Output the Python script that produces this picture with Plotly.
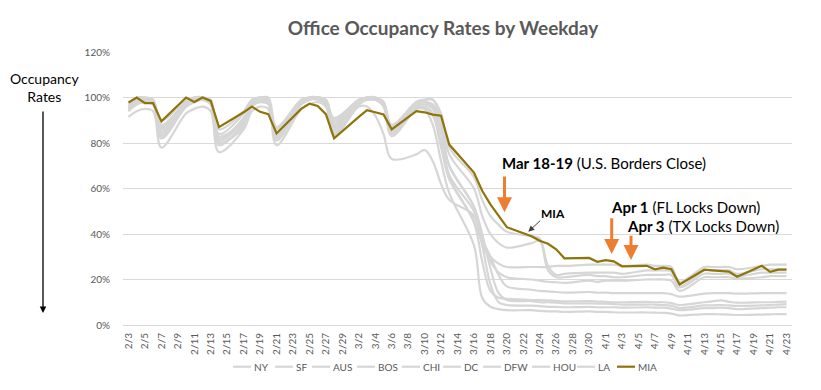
import plotly.graph_objects as go

dates = [
    "2020-02-03", "2020-02-04", "2020-02-05", "2020-02-06", "2020-02-07",
    "2020-02-10", "2020-02-11", "2020-02-12", "2020-02-13", "2020-02-14",
    "2020-02-17", "2020-02-18", "2020-02-19", "2020-02-20", "2020-02-21",
    "2020-02-24", "2020-02-25", "2020-02-26", "2020-02-27", "2020-02-28",
    "2020-03-02", "2020-03-03", "2020-03-04", "2020-03-05", "2020-03-06",
    "2020-03-09", "2020-03-10", "2020-03-11", "2020-03-12", "2020-03-13",
    "2020-03-16", "2020-03-17", "2020-03-18", "2020-03-19", "2020-03-20",
    "2020-03-23", "2020-03-24", "2020-03-25", "2020-03-26", "2020-03-27",
    "2020-03-30", "2020-03-31", "2020-04-01", "2020-04-02", "2020-04-03",
    "2020-04-06", "2020-04-07", "2020-04-08", "2020-04-09", "2020-04-10",
    "2020-04-13", "2020-04-14", "2020-04-15", "2020-04-16", "2020-04-17",
    "2020-04-20", "2020-04-21", "2020-04-22", "2020-04-23",
]

ny = [95, 98, 99, 98, 84, 97, 99, 99, 97, 80, 88, 97, 99, 98, 82,
      97, 99, 100, 98, 86, 98, 100, 99, 97, 84, 96, 95, 88, 72, 58,
      35, 12, 8, 7, 6.5, 6.5, 6.2, 6, 6, 5.8, 6, 5.8, 5.8, 5.6, 5.5,
      5.5, 5.4, 5.3, 5, 4.2, 4.8, 4.8, 4.7, 4.6, 4.4, 4.6, 4.7, 4.8, 4.8]
sf = [91.5, 94, 95, 94, 78, 93, 95, 96, 94, 76, 86, 94, 96, 95, 79,
      95, 97, 98, 96, 83, 96, 96, 92, 84, 73, 75, 77, 72, 62, 55,
      48, 35, 18, 10, 8.8, 8.5, 8.3, 8, 8, 7.8, 8, 7.8, 7.8, 7.8, 7.6,
      7.8, 7.6, 7.6, 7.2, 6.5, 7.4, 7.4, 7.6, 7.4, 7, 7.4, 7.6, 7.8, 7.8]
aus = [96, 99, 100, 99, 88, 98, 100, 100, 98, 83, 90, 98, 100, 99, 85,
       98, 100, 100, 99, 89, 98, 100, 100, 98, 86, 97, 98, 97, 88, 70,
       52, 40, 25, 14, 11, 10.5, 10, 10, 9.8, 9.5, 9.5, 9.4, 9.4, 9.2, 9,
       9, 9, 8.8, 8.5, 7.5, 8.6, 8.6, 8.8, 8.6, 8.4, 8.6, 8.8, 9, 9.2]
bos = [94, 97, 98, 97, 82, 96, 98, 99, 97, 79, 89, 97, 98, 97, 81,
       97, 99, 99, 97, 84, 97, 99, 99, 96, 83, 95, 96, 93, 80, 65,
       45, 28, 15, 12, 11.5, 11, 11, 10.8, 10.6, 10.4, 10.5, 10.3, 10.2, 10, 10,
       10.2, 10, 10, 9.6, 8.8, 10, 10.4, 10.8, 10.2, 9.8, 10, 10, 10.2, 10.3]
chi = [97, 99, 99, 98, 86, 98, 99, 100, 98, 82, 91, 98, 99, 99, 84,
       98, 100, 100, 98, 88, 98, 100, 99, 97, 85, 97, 98, 96, 84, 66,
       50, 38, 30, 22, 17, 15.5, 15, 14.8, 14.5, 14.2, 14.5, 14.2, 14.2, 14, 14,
       14, 14, 14, 13.6, 12.5, 13.8, 14, 14, 14, 13.8, 14, 14, 14, 14]
dc = [94, 97, 98, 97, 83, 96, 98, 99, 97, 80, 87, 96, 98, 98, 82,
      97, 99, 100, 98, 85, 97, 99, 99, 97, 84, 95, 95, 92, 78, 64,
      46, 36, 28, 23, 21, 20, 19.5, 19, 18.8, 18.5, 19.5, 19, 19.5, 19.5, 19.5,
      20, 20, 20, 19.5, 15, 21, 21, 21, 21, 20.5, 21, 21.5, 21.5, 21.5]
dfw = [96, 99, 99, 98, 87, 98, 100, 100, 98, 84, 93, 99, 100, 99, 86,
       98, 100, 100, 99, 90, 99, 100, 100, 98, 88, 98, 99, 99, 90, 75,
       60, 48, 40, 36, 34, 36, 37, 24, 21, 21, 22, 21.5, 21.5, 21, 21,
       22, 22, 22, 22, 16.5, 22.5, 22.5, 22.5, 22.5, 21.5, 23, 23, 23, 23]
hou = [97, 100, 100, 99, 90, 99, 100, 100, 99, 86, 94, 99, 100, 100, 87,
       99, 100, 100, 99, 91, 99, 100, 100, 98, 87, 98, 99, 99, 93, 78,
       65, 55, 48, 44, 41, 39, 38, 26, 22, 22.5, 23, 23, 23, 23, 22.5,
       24, 24, 24, 23.5, 17, 24, 24, 24, 24, 22.5, 24.5, 24.5, 24.5, 24.5]
la = [95, 98, 99, 98, 85, 97, 99, 99, 98, 81, 90, 98, 99, 98, 83,
      98, 100, 100, 98, 87, 98, 99, 99, 97, 85, 96, 97, 95, 85, 70,
      52, 38, 30, 27, 25.5, 25.5, 25.5, 25.5, 26, 26, 26.5, 26.5, 26.5, 26.5, 26,
      26.5, 26, 26, 25.5, 19, 25.5, 25.5, 25.5, 25.5, 24.5, 26, 26.5, 26.5, 26.5]
mia = [97.8, 100, 97.5, 97.5, 89.5, 100, 98, 100, 98.5, 87, 93.5, 96, 93.7, 92.7, 84.2,
       95, 97.3, 96.3, 92.7, 82, 91.5, 94.4, 93.5, 92.5, 86, 94, 93.5, 92.5, 92, 79.3,
       67, 59, 53, 48, 43, 39, 37, 35.7, 33.3, 29.3, 29.5, 27.8, 28.5, 28, 25.8,
       26, 24.5, 25.2, 24.5, 17.8, 24.3, 24, 23.8, 23.5, 21.2, 26, 23.4, 24.3, 24.3]

y_ticks = [0, 20, 40, 60, 80, 100, 120]
y_tick_labels = ["0%", "20%", "40%", "60%", "80%", "100%", "120%"]

grey_series = [("NY", ny), ("SF", sf), ("AUS", aus), ("BOS", bos), ("CHI", chi),
               ("DC", dc), ("DFW", dfw), ("HOU", hou), ("LA", la)]

FONT = "Lato"
GREY = "#D6D6D6"
GOLD = "#8E7409"
ORANGE = "#ED7D31"
TXT = "#595959"

# page body has an 8px margin; figure is sized so it fills the window exactly
OFF = 8
FW, FH = 821 - OFF, 390 - OFF
# plot area in window pixels
PL, PR, PT, PB = 123, 792, 52, 325
PW, PH = PR - PL, PB - PT


def px(X):
    return (X - PL) / PW


def py(Y):
    return (PB - Y) / PH


fig = go.Figure()
for name, vals in grey_series:
    fig.add_trace(go.Scatter(x=dates, y=vals, name=name, mode="lines",
                             line=dict(color=GREY, width=2.2, shape="spline", smoothing=1.0)))
fig.add_trace(go.Scatter(x=dates, y=mia, name="MIA", mode="lines",
                         line=dict(color=GOLD, width=2.2)))

fig.update_layout(
    width=FW, height=FH,
    margin=dict(l=PL - OFF, r=821 - PR, t=PT - OFF, b=390 - PB, autoexpand=False),
    paper_bgcolor="white", plot_bgcolor="white",
    font=dict(family=FONT, color=TXT),
    title=dict(text="<b>Office Occupancy Rates by Weekday</b>",
               x=(443 - OFF) / FW, y=1 - (28 - OFF) / FH, xanchor="center", yanchor="middle",
               font=dict(family=FONT, size=19, color=TXT)),
    showlegend=False,
    xaxis=dict(type="date", range=["2020-02-02 08:00", "2020-04-23 16:00"],
               tick0="2020-02-03", dtick=2 * 86400000, tickformat="%-m/%-d",
               tickangle=-90, tickfont=dict(family=FONT, size=10, color=TXT),
               showgrid=False, showline=True, linecolor="#D9D9D9", linewidth=1,
               ticks="outside", ticklen=3, tickcolor="rgba(0,0,0,0)",
               automargin=False, fixedrange=True),
    yaxis=dict(range=[0, 120], tickvals=y_ticks, ticktext=y_tick_labels,
               tickfont=dict(family=FONT, size=10, color=TXT),
               showgrid=True, gridcolor="#D9D9D9", gridwidth=1, zeroline=False,
               ticks="outside", ticklen=10, tickcolor="rgba(0,0,0,0)",
               automargin=False, fixedrange=True),
)

ann = []
shapes = []
ann.append(dict(text="Occupancy<br>Rates", x=px(44), y=py(87), xref="paper", yref="paper",
                showarrow=False, xanchor="center", yanchor="middle",
                font=dict(family=FONT, size=14, color="black")))
ann.append(dict(text="", x=px(43), y=py(313), xref="paper", yref="paper",
                showarrow=True, ax=0, ay=-203, arrowhead=2, arrowsize=1,
                arrowwidth=1.3, arrowcolor="black"))
ann.append(dict(text="<b>Mar 18-19</b> (U.S. Borders Close)", x=px(500), y=py(162.7),
                xref="paper", yref="paper", showarrow=False, xanchor="left", yanchor="middle",
                font=dict(family=FONT, size=15, color="black")))
ann.append(dict(text="<b>Apr 1</b> (FL Locks Down)", x=px(608.5), y=py(206.7),
                xref="paper", yref="paper", showarrow=False, xanchor="left", yanchor="middle",
                font=dict(family=FONT, size=15, color="black")))
ann.append(dict(text="<b>Apr 3</b> (TX Locks Down)", x=px(625), y=py(225.7),
                xref="paper", yref="paper", showarrow=False, xanchor="left", yanchor="middle",
                font=dict(family=FONT, size=15, color="black")))
for X, Yh, Yt in [(504.5, 212.3, 175), (611.7, 254, 216.7), (631, 260, 234.3)]:
    ann.append(dict(text="", x=px(X), y=py(Yh), xref="paper", yref="paper",
                    showarrow=True, ax=0, ay=-(Yh - Yt), arrowhead=2, arrowsize=1,
                    arrowwidth=3, arrowcolor=ORANGE))
ann.append(dict(text="<b>MIA</b>", x=px(552.5), y=py(213.3), xref="paper", yref="paper",
                showarrow=False, xanchor="center", yanchor="middle",
                font=dict(family=FONT, size=12, color="black")))
ann.append(dict(text="", x=px(528.3), y=py(231.7), xref="paper", yref="paper",
                showarrow=True, ax=13.4, ay=-12.4, arrowhead=2, arrowsize=1.2,
                arrowwidth=1, arrowcolor="#404040"))

# legend drawn as line samples + labels
legend_x = [233, 275, 312, 357, 402, 443, 483, 532, 577, 617]
legend_y = 366.7
for (name, col), X in zip([(n, GREY) for n, _ in grey_series] + [("MIA", GOLD)], legend_x):
    shapes.append(dict(type="line", xref="paper", yref="paper",
                       x0=px(X), x1=px(X + 18), y0=py(legend_y), y1=py(legend_y),
                       line=dict(color=col, width=2.2)))
    ann.append(dict(text=name, x=px(X + 19), y=py(legend_y), xref="paper", yref="paper",
                    showarrow=False, xanchor="left", yanchor="middle",
                    font=dict(family=FONT, size=10, color=TXT)))

fig.update_layout(annotations=ann, shapes=shapes)

fig.write_html("out.html")
